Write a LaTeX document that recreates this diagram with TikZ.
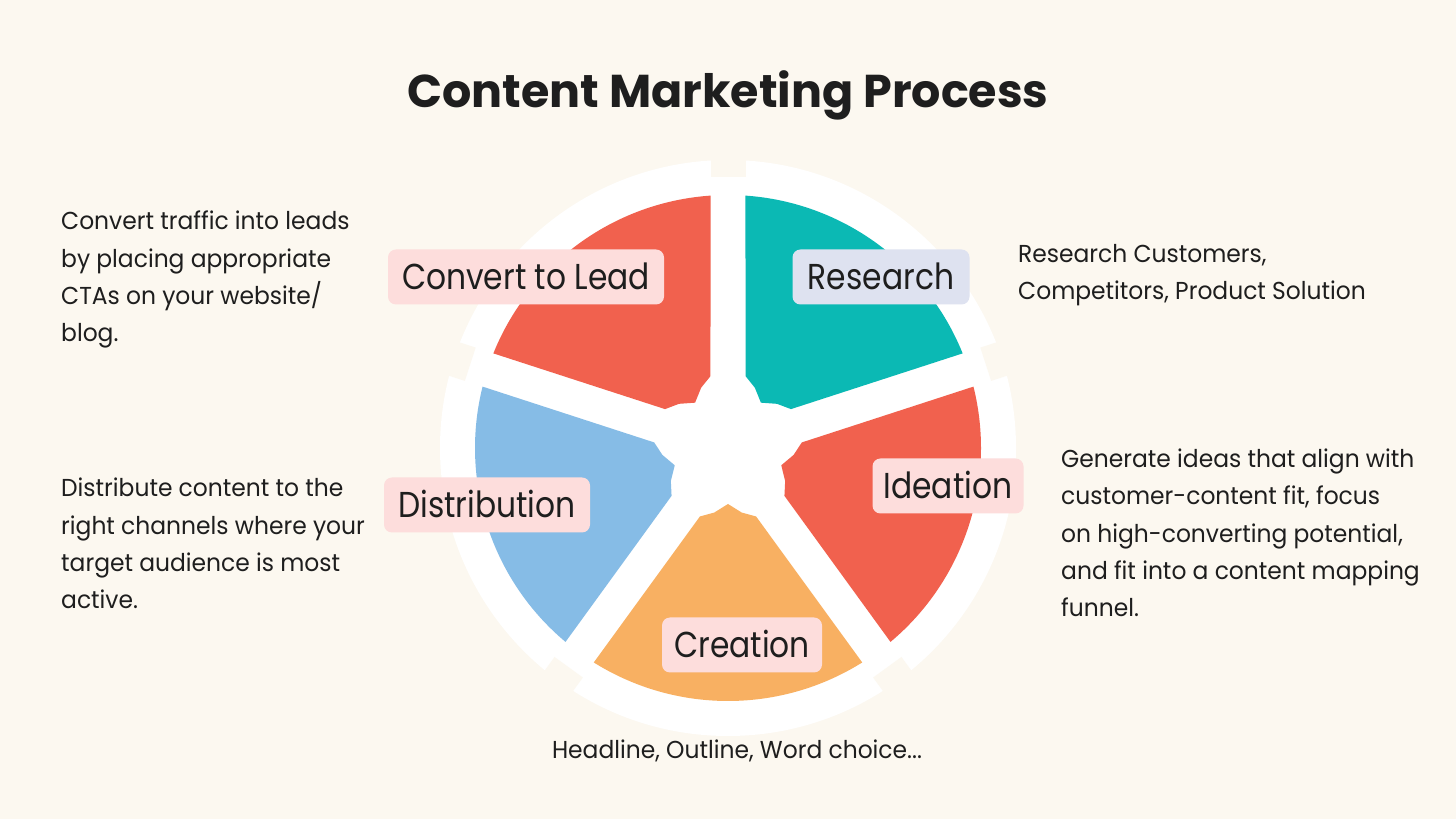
\documentclass[tikz,border=0pt]{standalone}
\usepackage{fontspec}
\setmainfont{Poppins}
\newfontfamily\tagfont[FakeStretch=0.87]{Poppins}
\newfontfamily\notefont[FakeStretch=0.955]{Poppins}
\usetikzlibrary{calc}
\definecolor{cream}{HTML}{FCF8F0}
\definecolor{coral}{HTML}{F1614E}
\definecolor{lagoon}{HTML}{0BB9B4}
\definecolor{skyblue}{HTML}{86BCE6}
\definecolor{apricot}{HTML}{F8B062}
\definecolor{blush}{HTML}{FDDDDC}
\definecolor{lilac}{HTML}{DEE2F0}
\definecolor{ink}{HTML}{1E1E1E}

% one coloured wedge: colour, from angle, to angle
\newcommand\wedgefill[3]{%
  \fill[#1] ([shift={(#2+3.96:253)}]ctr) arc[start angle=#2+3.96, end angle=#3-3.96, radius=253]
    -- ([shift={(#3-13.7:74)}]ctr) -- ([shift={(#3-24:66)}]ctr)
    -- ([shift={(#2/2+#3/2:56)}]ctr)
    -- ([shift={(#2+24:66)}]ctr) -- ([shift={(#2+13.7:74)}]ctr) -- cycle;}

\begin{document}
\begin{tikzpicture}[
  x=1pt, y=1pt,
  tag/.style={fill=blush, rounded corners=8pt, inner sep=0pt, minimum height=55,
              text=ink, font=\tagfont\fontsize{36}{40}\selectfont,
              text height=26pt, text depth=0pt},
  note/.style={align=left, anchor=base west, inner sep=0pt, text=ink,
               font=\notefont\fontsize{24.5}{37.4}\selectfont}]

  % page
  \fill[cream] (0,0) rectangle (1456,819);
  \coordinate (ctr) at (728,371);

  % white disc with slits at the gaps
  \fill[white] (ctr) circle[radius=288];
  \foreach \g in {18,90,162,234,306}
    \fill[cream, shift={(728,371)}, rotate=\g] (271,-17.5) rectangle (300,17.5);

  % wedges
  \wedgefill{lagoon}{18}{90}
  \wedgefill{coral}{90}{162}
  \wedgefill{skyblue}{162}{234}
  \wedgefill{apricot}{234}{306}
  \wedgefill{coral}{306}{378}

  % title
  \node[anchor=base, inner sep=0pt, text=ink, font=\bfseries\fontsize{46}{50}\selectfont]
    (title) at (728,711) {Content Marketing Process};

  % stage labels
  \node[tag, minimum width=276] (convert) at (526,542) {Convert to Lead};
  \node[tag, fill=lilac, minimum width=177] (research) at (881,542) {Research};
  \node[tag, minimum width=151] (ideation) at (948,333) {Ideation};
  \node[tag, minimum width=206] (distribution) at (487,314) {Distribution};
  \node[tag, minimum width=160] (creation) at (742,174) {Creation};

  % notes (placed by their last line)
  \node[note] (convnote) at (61,477)
    {Convert traffic into leads\\ by placing appropriate\\ CTAs on your website/\\ blog.};
  \node[note] (distnote) at (61,210)
    {Distribute content to the\\ right channels where your\\ target audience is most\\ active.};
  \node[note] (resnote) at (1018,519)
    {Research Customers,\\ Competitors, Product Solution};
  \node[note] (ideanote) at (1061,202)
    {Generate ideas that align with\\ customer-content fit, focus\\ on high-converting potential,\\ and fit into a content mapping\\ funnel.};
  \node[note, anchor=base] (creatnote) at (737,60)
    {Headline, Outline, Word choice...};
\end{tikzpicture}
\end{document}
